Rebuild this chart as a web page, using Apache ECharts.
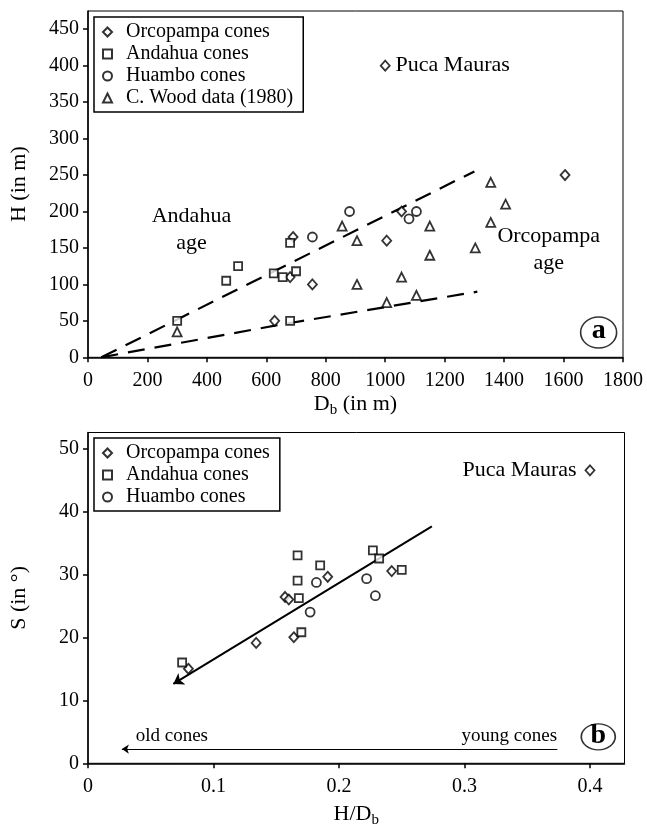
<!DOCTYPE html>
<html>
<head>
<meta charset="utf-8">
<script src="https://cdn.jsdelivr.net/npm/echarts@6/dist/echarts.min.js"></script>
<style>
  html, body { margin: 0; background: #fff; }
  #main { width: 647px; height: 832px; }
</style>
</head>
<body>
<div id="main"></div>
<script>
// panel a: H vs Db (m)
var orcopampaA = [[628, 50], [680, 110], [690, 165], [755, 100], [1005, 160], [1055, 200], [1605, 250]];
var pucaMaurasA = [[1000, 400]];
var andahuaA = [[300, 50], [465, 105], [505, 125], [625, 115], [655, 110], [680, 157], [680, 50], [700, 118]];
var huamboA = [[755, 165], [880, 200], [1080, 190], [1105, 200]];
var woodA = [[300, 35], [855, 180], [905, 160], [905, 100], [1005, 75], [1055, 110], [1105, 85],
  [1150, 180], [1150, 140], [1303, 150], [1355, 240], [1355, 185], [1405, 210]];
var upperAge = [[45, 0], [1300, 255]];
var lowerAge = [[45, 0], [650, 45], [1310, 90]];

// panel b: S vs H/Db
var orcopampaB = [[0.08, 15], [0.134, 19.1], [0.157, 26.4], [0.16, 26], [0.164, 20], [0.191, 29.6], [0.242, 30.5]];
var pucaMaurasB = [[0.4, 46.5]];
var andahuaB = [[0.075, 16], [0.167, 33], [0.167, 29], [0.168, 26.2], [0.17, 20.8], [0.185, 31.4],
  [0.227, 33.8], [0.232, 32.5], [0.25, 30.7]];
var huamboB = [[0.177, 24], [0.182, 28.7], [0.222, 29.3], [0.229, 26.6]];
var trendB = [[0.274, 37.6], [0.068, 12.6]];

var xTicksA = [0, 200, 400, 600, 800, 1000, 1200, 1400, 1600, 1800];
var yTicksA = [0, 50, 100, 150, 200, 250, 300, 350, 400, 450];
var xTicksB = [0, 0.1, 0.2, 0.3, 0.4];
var yTicksB = [0, 10, 20, 30, 40, 50];

var FONT = 'Liberation Serif';
var myChart = echarts.init(document.getElementById('main'));

var hollow = { color: '#fff', borderColor: '#000', borderWidth: 1.8 };
var plainText = { color: '#000', textBorderWidth: 0, textShadowBlur: 0, opacity: 1 };

function pointSeries(name, symbol, size, data, idx) {
  return {
    name: name,
    type: 'scatter',
    xAxisIndex: idx,
    yAxisIndex: idx,
    symbol: symbol,
    symbolSize: size,
    itemStyle: hollow,
    silent: true,
    z: 5,
    data: data
  };
}

function textMark(idx, coord, text, opts) {
  return {
    type: 'scatter',
    xAxisIndex: idx,
    yAxisIndex: idx,
    symbolSize: 0,
    silent: true,
    itemStyle: { color: '#000' },
    label: Object.assign({
      show: true,
      position: 'inside',
      formatter: text,
      fontFamily: FONT,
      fontSize: 22
    }, plainText, opts || {}),
    data: [coord]
  };
}

function valueAxis(idx, min, max, ticks, margin, extra) {
  return Object.assign({
    type: 'value',
    gridIndex: idx,
    min: min,
    max: max,
    splitLine: { show: false },
    axisLine: { show: true, lineStyle: { color: '#000', width: 1.5 } },
    axisTick: { show: true, length: 5, customValues: ticks, lineStyle: { color: '#000', width: 1.5 } },
    axisLabel: {
      customValues: ticks, fontFamily: FONT, fontSize: 20, color: '#000', margin: margin,
      formatter: function (v) { return String(v); }
    },
    nameLocation: 'middle',
    nameTextStyle: {
      fontFamily: FONT, fontSize: 22, color: '#000',
      rich: { sub: { fontFamily: FONT, fontSize: 15, padding: [9, 0, 0, 0], verticalAlign: 'top', lineHeight: 15 },
              main: { fontFamily: FONT, fontSize: 22, lineHeight: 22, verticalAlign: 'top' } }
    }
  }, extra);
}

var legendBase = {
  orient: 'vertical',
  left: 94,
  selectedMode: false,
  backgroundColor: '#fff',
  borderColor: '#000',
  borderWidth: 1.5,
  itemWidth: 9,
  itemHeight: 9,
  itemGap: 2,
  padding: [5, 10, 4, 8],
  textStyle: { fontFamily: FONT, fontSize: 20, color: '#000', padding: [0, 0, 0, 9] }
};

var option = {
  backgroundColor: '#fff',
  animation: false,
  grid: [
    { left: 87, right: 24, top: 11, height: 346.3, show: true, borderColor: '#000', borderWidth: 1 },
    { left: 84.5, right: 22.5, top: 432.5, bottom: 68.7, show: true, borderColor: '#000', borderWidth: 1 }
  ],
  legend: [
    Object.assign({}, legendBase, {
      top: 17,
      data: ['Orcopampa cones', 'Andahua cones', 'Huambo cones', 'C. Wood data (1980)']
    }),
    Object.assign({}, legendBase, {
      top: 438,
      data: ['Orcopampa cones', 'Andahua cones', 'Huambo cones']
    })
  ],
  xAxis: [
    valueAxis(0, 0, 1800, xTicksA, 13, { name: '{main|D}{sub|b}{main| (in m)}', nameGap: 36 }),
    valueAxis(1, 0, 0.4275, xTicksB, 13, { name: '{main|H/D}{sub|b}', nameGap: 40 })
  ],
  yAxis: [
    valueAxis(0, 0, 475, yTicksA, 9, { name: 'H (in m)', nameGap: 58 }),
    valueAxis(1, 0, 52.5, yTicksB, 9, { name: 'S (in °)', nameGap: 58 })
  ],
  series: [
    {
      type: 'line', xAxisIndex: 0, yAxisIndex: 0, symbol: 'none', silent: true,
      lineStyle: { color: '#000', width: 2.2, type: [17, 10] }, data: upperAge
    },
    {
      type: 'line', xAxisIndex: 0, yAxisIndex: 0, symbol: 'none', silent: true,
      lineStyle: { color: '#000', width: 2.2, type: [17, 10] }, data: lowerAge
    },
    pointSeries('Orcopampa cones', 'diamond', [9, 10], orcopampaA, 0),
    pointSeries('Andahua cones', 'rect', 8, andahuaA, 0),
    pointSeries('Huambo cones', 'circle', 9, huamboA, 0),
    pointSeries('C. Wood data (1980)', 'triangle', 9, woodA, 0),
    Object.assign(pointSeries('Puca Mauras', 'diamond', [9, 10], pucaMaurasA, 0), {
      label: Object.assign({ show: true, position: 'right', distance: 5, formatter: 'Puca Mauras',
               fontFamily: FONT, fontSize: 22 }, plainText)
    }),
    textMark(0, [348, 175], 'Andahua\nage', { lineHeight: 27, align: 'center' }),
    textMark(0, [1550, 147], 'Orcopampa\nage', { lineHeight: 27, align: 'center' }),
    {
      type: 'scatter', xAxisIndex: 0, yAxisIndex: 0, silent: true,
      symbol: 'circle', symbolSize: [36, 31],
      itemStyle: { color: 'rgba(0,0,0,0)', borderColor: '#000', borderWidth: 1.5 },
      label: Object.assign({ show: true, position: 'inside', formatter: 'a', fontFamily: FONT,
               fontWeight: 'bold', fontSize: 28, offset: [0, -2] }, plainText),
      data: [[1718, 34]]
    },

    {
      type: 'lines', coordinateSystem: 'cartesian2d', xAxisIndex: 1, yAxisIndex: 1, silent: true,
      symbol: ['none', 'arrow'], symbolSize: 10,
      lineStyle: { color: '#000', width: 2, opacity: 1 },
      data: [{ coords: trendB }]
    },
    pointSeries('Orcopampa cones', 'diamond', [9, 10], orcopampaB, 1),
    pointSeries('Andahua cones', 'rect', 8, andahuaB, 1),
    pointSeries('Huambo cones', 'circle', 9, huamboB, 1),
    Object.assign(pointSeries('Puca Mauras', 'diamond', [9, 10], pucaMaurasB, 1), {
      label: Object.assign({ show: true, position: 'left', distance: 8, formatter: 'Puca Mauras',
               fontFamily: FONT, fontSize: 22 }, plainText)
    }),
    {
      type: 'lines', coordinateSystem: 'cartesian2d', xAxisIndex: 1, yAxisIndex: 1, silent: true,
      symbol: ['none', 'arrow'], symbolSize: 7,
      lineStyle: { color: '#000', width: 1.2, opacity: 1 },
      data: [{ coords: [[0.374, 2.25], [0.027, 2.25]] }]
    },
    textMark(1, [0.038, 4.3], 'old cones', { align: 'left', fontSize: 19 }),
    textMark(1, [0.3738, 4.3], 'young cones', { align: 'right', fontSize: 19 }),
    {
      type: 'scatter', xAxisIndex: 1, yAxisIndex: 1, silent: true,
      symbol: 'circle', symbolSize: [34, 26],
      itemStyle: { color: 'rgba(0,0,0,0)', borderColor: '#000', borderWidth: 1.5 },
      label: Object.assign({ show: true, position: 'inside', formatter: 'b', fontFamily: FONT,
               fontWeight: 'bold', fontSize: 28, offset: [0, -1] }, plainText),
      data: [[0.4066, 4.2]]
    }
  ]
};

myChart.setOption(option);
</script>
</body>
</html>
